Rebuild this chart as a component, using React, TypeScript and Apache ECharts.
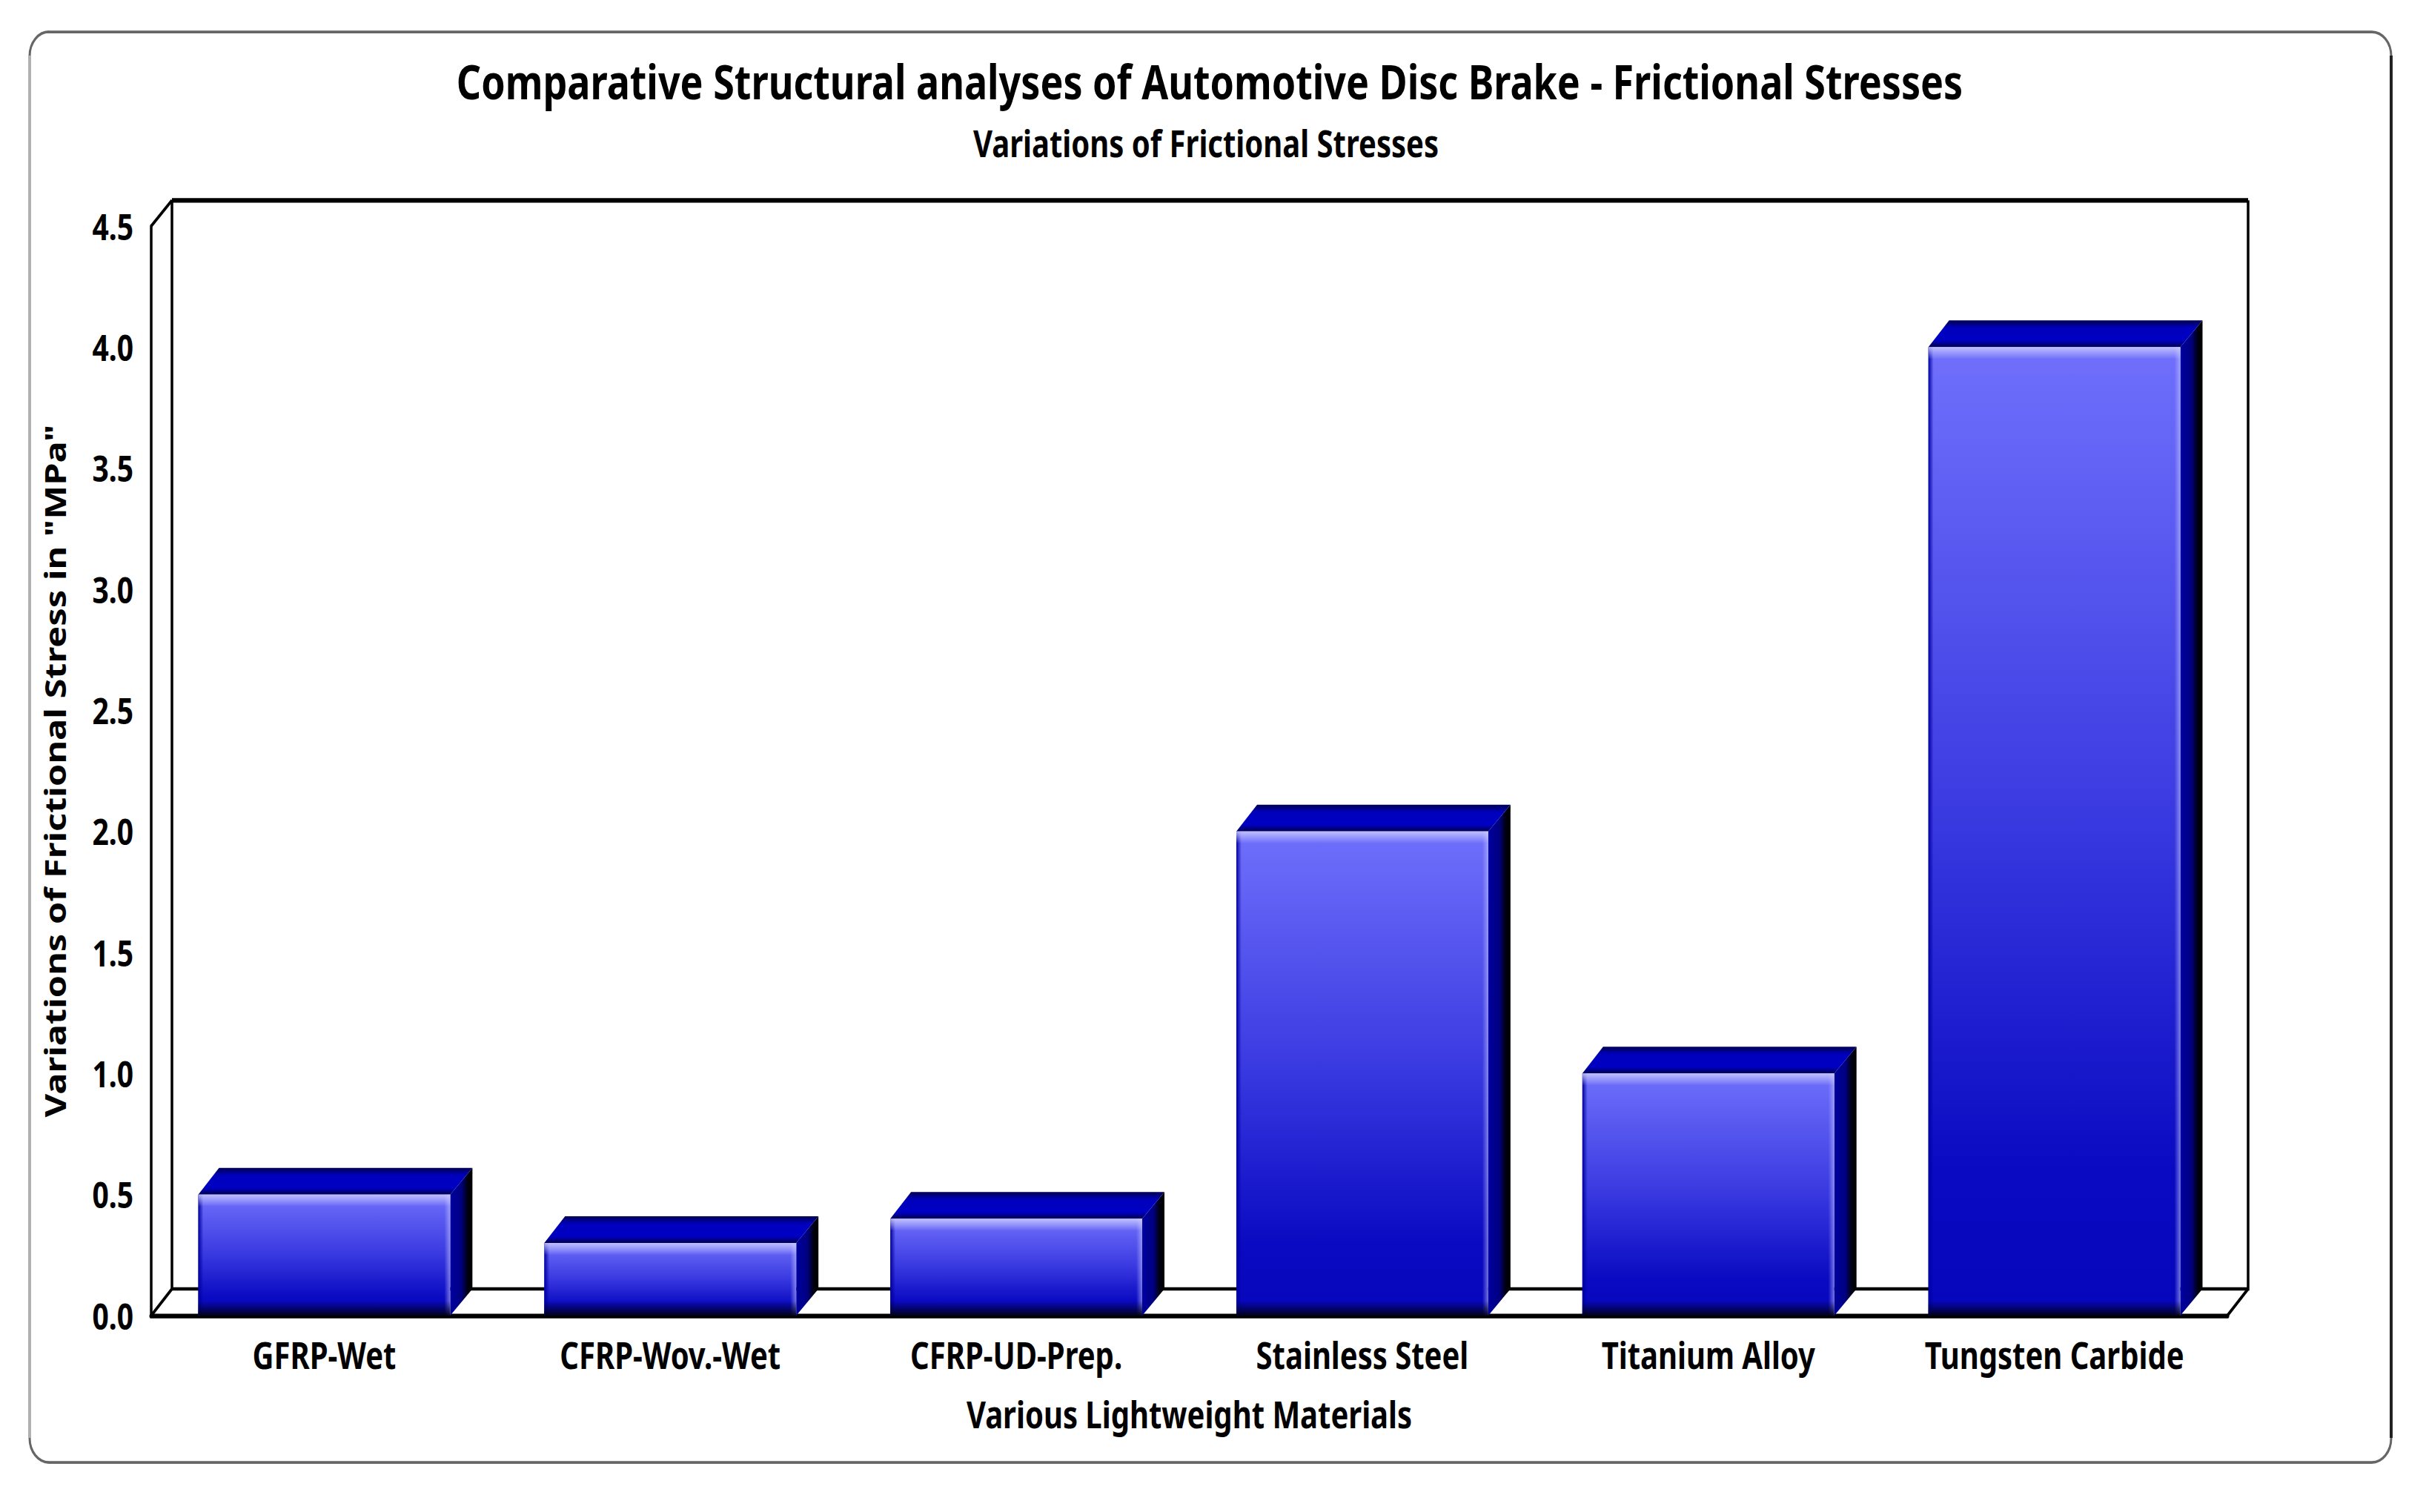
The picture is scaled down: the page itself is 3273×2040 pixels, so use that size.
import React, { useEffect, useRef } from "react";
import * as echarts from "echarts";

const titleText = "Comparative Structural analyses of Automotive Disc Brake - Frictional Stresses";
const subtitleText = "Variations of Frictional Stresses";
const xAxisName = "Various Lightweight Materials";
const yAxisName = 'Variations of Frictional Stress in "MPa"';
const categories = ["GFRP-Wet", "CFRP-Wov.-Wet", "CFRP-UD-Prep.", "Stainless Steel", "Titanium Alloy", "Tungsten Carbide"];
const stress = [0.5, 0.3, 0.4, 2.0, 1.0, 4.0];

const W = 3273;
const H = 2040;
const K = 0.8; // the reference is stretched vertically: chart is drawn at K height and scaled back with CSS
const FONT = "'Noto Sans', sans-serif";
const L = 204, R = 3005, T = 305, B = 1775;
const DX = 28, DY = 36 * K;
const y = (v: number) => v * K;

const lin = (x2: number, y2: number, stops: [number, string][]) => ({
  type: "linear", x: 0, y: 0, x2, y2,
  colorStops: stops.map(([offset, color]) => ({ offset, color })),
});

function renderBar(_: any, api: any) {
  const i = api.value(0);
  const v = api.value(1);
  const base = api.coord([i, 0]);
  const top = api.coord([i, v]);
  const w = api.size([1, 0])[0] * 0.728;
  const x0 = base[0] - w / 2;
  const x1 = base[0] + w / 2;
  const yt = top[1];
  const yb = base[1];
  const h = yb - yt;
  return {
    type: "group",
    children: [
      {
        type: "polygon",
        shape: { points: [[x1, yt], [x1 + DX + 2, yt - DY], [x1 + DX + 2, yb - DY], [x1, yb]] },
        style: { fill: lin(1, 0, [[0, "#0000a0"], [0.5, "#000080"], [0.78, "#000010"], [1, "#000000"]]) },
      },
      {
        type: "polygon",
        shape: { points: [[x0, yt], [x0 + DX, yt - DY], [x1 + DX + 2, yt - DY], [x1, yt]] },
        style: { fill: lin(0, 1, [[0, "#000050"], [0.28, "#0000bc"], [0.75, "#0000c4"], [1, "#000050"]]) },
      },
      {
        type: "rect",
        shape: { x: x0, y: yt, width: w, height: h },
        style: { fill: lin(0, 1, [[0, "#7070fc"], [0.5, "#3838e0"], [0.85, "#0a0ac2"], [1, "#0606bc"]]) },
      },
      {
        type: "rect",
        shape: { x: x0, y: yt, width: 7, height: h },
        style: { fill: lin(1, 0, [[0, "#0000a0"], [1, "rgba(0,0,160,0)"]]) },
      },
      {
        type: "rect",
        shape: { x: x1 - 8, y: yt, width: 8, height: h },
        style: { fill: lin(1, 0, [[0, "rgba(200,200,255,0)"], [1, "rgba(200,200,255,0.55)"]]) },
      },
      {
        type: "rect",
        shape: { x: x0, y: yt, width: w, height: 13 },
        style: { fill: lin(0, 1, [[0, "rgba(205,205,255,0.85)"], [1, "rgba(205,205,255,0)"]]) },
      },
      {
        type: "rect",
        shape: { x: x0, y: yb - 16, width: w, height: 16 },
        style: { fill: lin(0, 1, [[0, "rgba(0,0,40,0)"], [1, "rgba(0,0,20,0.95)"]]) },
      },
    ],
  };
}

export default function App() {
  const ref = useRef<HTMLDivElement>(null);
  useEffect(() => {
    document.body.style.margin = "0";
    document.body.style.background = "#fff";
    const chart = echarts.init(ref.current!, null, { renderer: "svg" });
    const wall = { stroke: "#000", lineWidth: 3.5, fill: "none" };
    const bx = L + DX, by = y(T) - DY + 1, rx = R + DX, fy = y(B) - DY;
    chart.setOption({
      animation: false,
      backgroundColor: "#fff",
      title: [
        { text: titleText, left: 1627, top: y(70), textAlign: "center", textStyle: { fontFamily: FONT, fontWeight: "bold", fontSize: 52, color: "#000" } },
        { text: subtitleText, left: 1622, top: y(161), textAlign: "center", textStyle: { fontFamily: FONT, fontWeight: "bold", fontSize: 40, color: "#000" } },
      ],
      grid: { left: L, right: W - R, top: y(T), bottom: y(H) - y(B) },
      xAxis: {
        type: "category", data: categories,
        name: xAxisName, nameLocation: "middle", nameGap: 86,
        nameTextStyle: { fontFamily: FONT, fontWeight: "bold", fontSize: 40, color: "#000" },
        axisLine: { show: true, lineStyle: { color: "#000", width: 5 } },
        axisTick: { show: false },
        axisLabel: { interval: 0, margin: 22, fontFamily: FONT, fontWeight: "bold", fontSize: 40, color: "#000" },
      },
      yAxis: {
        type: "value", min: 0, max: 4.5, interval: 0.5,
        name: yAxisName, nameLocation: "middle", nameGap: 111,
        nameTextStyle: { fontFamily: FONT, fontWeight: "bold", fontSize: 39, color: "#000" },
        splitLine: { show: false },
        axisTick: { show: false },
        axisLine: { show: true, lineStyle: { color: "#000", width: 3.5 } },
        axisLabel: { margin: 24, fontFamily: FONT, fontWeight: "bold", fontSize: 39, color: "#000", formatter: (v: number) => v.toFixed(1) },
      },
      graphic: [
        { type: "rect", shape: { x: 40, y: y(43), width: 3186, height: y(1973 - 43), r: 26 }, style: { fill: "none", stroke: "#666", lineWidth: 3 }, z: 0 },
        { type: "line", shape: { x1: 40, y1: y(75), x2: 40, y2: y(1940) }, style: { stroke: "#b0b0b0", lineWidth: 3 }, z: 0 },
        { type: "line", shape: { x1: 3226, y1: y(75), x2: 3226, y2: y(1940) }, style: { stroke: "#222", lineWidth: 4 }, z: 0 },
        { type: "polyline", shape: { points: [[L, y(T)], [bx, by]] }, style: wall, z: 0 },
        { type: "polyline", shape: { points: [[bx, by], [rx, by]] }, style: { ...wall, lineWidth: 5 }, z: 0 },
        { type: "polyline", shape: { points: [[bx, by], [bx, fy], [rx, fy], [rx, by]] }, style: wall, z: 0 },
        { type: "polyline", shape: { points: [[L, y(B)], [bx, fy]] }, style: wall, z: 0 },
        { type: "polyline", shape: { points: [[R, y(B)], [rx, fy]] }, style: wall, z: 0 },
      ],
      series: [
        {
          type: "custom",
          renderItem: renderBar,
          data: stress.map((v, i) => [i, v]),
          encode: { x: 0, y: 1 },
          clip: false,
          z: 3,
        },
      ],
    });
    return () => chart.dispose();
  }, []);
  return (
    <div style={{ width: W, height: H, overflow: "hidden", background: "#fff" }}>
      <div ref={ref} style={{ width: W, height: H * K, transform: `scaleY(${1 / K})`, transformOrigin: "0 0" }} />
    </div>
  );
}
